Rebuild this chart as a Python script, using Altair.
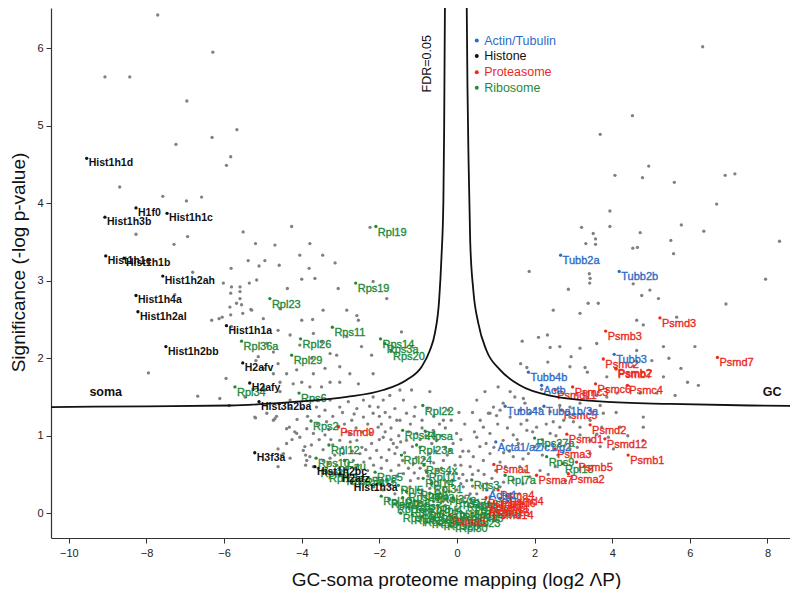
import altair as alt
import pandas as pd

FONT = "Liberation Sans"

# ---------------- data ----------------
x_ticks = [-10, -8, -6, -4, -2, 0, 2, 4, 6, 8]
y_ticks = [0, 1, 2, 3, 4, 5, 6]

grey_upper_left = [(-9.07, 5.63), (-8.43, 5.63), (-6.96, 5.32), (-6.29, 5.95), (-7.71, 6.43), (-6.31, 4.85),
                   (-5.67, 4.95), (-7.24, 4.76), (-5.83, 4.60), (-5.94, 4.49), (-8.69, 4.21), (-7.58, 4.09),
                   (-6.97, 4.03), (-6.58, 4.08), (-8.27, 3.60), (-6.94, 3.57), (-7.29, 3.47), (-5.51, 3.63),
                   (-5.19, 3.48), (-5.38, 3.26), (-5.10, 3.19), (-6.81, 3.11), (-5.82, 3.16), (-6.02, 2.97),
                   (-5.81, 2.92), (-5.59, 2.92), (-5.35, 2.97), (-5.16, 3.01), (-5.83, 2.84), (-5.59, 2.86),
                   (-7.27, 2.82), (-5.59, 2.77), (-5.85, 2.66), (-5.68, 2.71), (-5.55, 2.69), (-5.31, 2.63),
                   (-5.52, 2.58), (-5.83, 2.56), (-6.05, 2.53), (-6.32, 2.49), (-6.13, 2.51)]

grey_mid_left = [(-4.26, 3.70), (-2.24, 3.69), (-4.69, 3.46), (-3.79, 3.48), (-4.95, 3.26), (-4.58, 3.20),
                 (-3.81, 3.16), (-3.14, 3.23), (-4.05, 3.33), (-3.46, 3.33), (-4.37, 2.90), (-4.00, 3.02),
                 (-3.66, 3.03), (-3.06, 2.90), (-2.16, 2.99), (-1.81, 2.77), (-5.29, 2.62), (-4.56, 2.64),
                 (-3.45, 2.62), (-2.84, 2.62), (-4.99, 2.51), (-4.00, 2.49), (-3.72, 2.50), (-2.58, 2.55),
                 (-2.54, 2.49), (-1.43, 2.34), (-5.81, 2.41), (-4.61, 2.36), (-4.30, 2.30), (-3.70, 2.32),
                 (-3.49, 2.21), (-2.84, 2.28), (-2.46, 2.15), (-4.90, 2.19), (-5.12, 2.02), (-4.73, 2.08),
                 (-3.74, 2.00), (-3.27, 2.06), (-3.10, 2.04), (-2.20, 2.04), (-2.16, 1.80), (-4.99, 1.87),
                 (-4.73, 1.80), (-4.13, 1.85), (-3.70, 1.80), (-3.40, 1.87), (-3.02, 1.89), (-2.76, 1.80),
                 (-2.54, 1.67), (-3.02, 1.69), (-3.27, 1.69), (-3.49, 1.63), (-7.95, 1.81), (-5.95, 1.74),
                 (-6.68, 1.51), (-6.11, 1.48), (-5.46, 1.50), (-5.18, 1.97), (-4.61, 1.93), (-4.39, 1.80),
                 (-4.22, 1.67), (-4.56, 1.57), (-4.95, 1.59), (-4.30, 1.46), (-4.05, 2.17), (-4.56, 1.69),
                 (-4.99, 1.63), (-3.79, 1.63), (-4.00, 1.69)]

grey_lower_left = [(-5.87, 1.39), (-5.19, 1.23), (-4.73, 1.20), (-4.65, 1.25), (-4.32, 1.11), (-4.12, 1.21),
                   (-4.18, 1.05), (-3.87, 1.09), (-4.05, 0.98), (-4.39, 0.90), (-4.61, 0.83), (-4.52, 0.75),
                   (-4.30, 0.71), (-4.61, 0.60), (-3.92, 0.86), (-3.90, 0.75), (-3.87, 0.68), (-3.90, 0.62),
                   (-5.21, 1.24), (-4.90, 1.29), (-4.69, 1.22), (-4.30, 1.35), (-4.39, 1.09), (-4.13, 1.03),
                   (-3.62, 1.37), (-3.40, 1.33), (-3.27, 1.46), (-3.02, 1.37), (-2.80, 1.44), (-2.58, 1.35),
                   (-2.41, 1.46), (-2.16, 1.50), (-1.90, 1.46), (-2.03, 1.37), (-1.73, 1.52), (-1.47, 1.59),
                   (-1.38, 1.46), (-1.17, 1.59), (-1.08, 1.37), (-0.70, 1.57), (-1.30, 1.29), (-1.47, 1.20),
                   (-1.73, 1.24), (-2.16, 1.29), (-2.41, 1.24), (-2.71, 1.20), (-3.36, 1.18), (-3.70, 1.03),
                   (-3.40, 1.01), (-3.02, 0.94), (-2.76, 1.03), (-2.58, 0.94), (-2.24, 1.03), (-2.03, 1.11),
                   (-1.90, 0.98), (-1.64, 0.90), (-1.30, 0.94), (-1.04, 1.03), (-0.61, 1.07), (-0.52, 0.94),
                   (-0.35, 1.20), (-0.22, 1.33), (-0.01, 1.03), (-4.47, 0.77), (-3.96, 0.81), (-3.79, 0.73),
                   (-3.27, 0.71), (-2.93, 0.77), (-2.67, 0.68), (-2.50, 0.77), (-2.24, 0.71), (-2.07, 0.81),
                   (-1.81, 0.68), (-1.60, 0.77), (-1.12, 0.64), (-0.70, 0.77), (-0.35, 0.68), (-0.18, 0.81),
                   (0.08, 0.73), (0.34, 0.60), (-0.01, 0.51), (-1.38, 0.51), (-1.81, 0.43), (-2.16, 0.34),
                   (-1.21, 0.34), (0.16, 0.34), (0.34, 0.25), (-3.20, 1.25), (-2.90, 1.15), (-2.60, 1.10),
                   (-2.30, 1.15), (-2.00, 1.25), (-1.70, 1.10), (-1.50, 1.00), (-1.20, 1.15), (-0.90, 1.20),
                   (-0.80, 1.00), (-0.60, 1.25), (-0.40, 1.00), (-0.30, 0.85), (-0.10, 0.90), (0.10, 0.95),
                   (0.20, 1.15), (0.15, 0.80), (-0.50, 0.55), (-0.80, 0.55), (-0.95, 0.85), (-1.35, 0.78),
                   (-1.50, 0.62), (-1.95, 0.58), (-2.30, 0.55), (-2.60, 0.50), (-2.85, 0.58), (-3.10, 0.62),
                   (-3.45, 0.82), (-3.20, 0.88), (-2.45, 0.85), (-2.20, 0.90), (-1.75, 0.82), (-1.15, 0.86),
                   (-0.85, 0.70), (-0.55, 0.80), (-3.60, 1.15), (-3.85, 1.25), (-3.30, 1.08), (-2.95, 1.30),
                   (-2.65, 1.28), (-1.85, 1.30), (-1.60, 1.35), (-1.10, 1.25), (-0.75, 1.35), (-0.45, 1.15),
                   (-0.15, 1.20), (0.05, 1.30), (-4.00, 1.35), (-3.55, 0.95), (-4.25, 0.95), (-3.70, 0.60),
                   (-3.40, 0.55), (-2.05, 0.45), (-1.65, 0.40), (-1.00, 0.45), (-0.65, 0.40), (-0.25, 0.40),
                   (0.05, 0.45), (-1.40, 0.30), (-0.90, 0.25), (-0.45, 0.20), (-0.10, 0.18), (0.20, 0.20)]

grey_dense_left = [(-3.45, 0.68), (-3.15, 0.75), (-2.95, 0.85), (-2.75, 0.92), (-2.55, 0.62), (-2.35, 0.82),
                   (-2.15, 0.62), (-1.95, 0.72), (-1.70, 0.95), (-1.55, 0.85), (-1.40, 0.68), (-1.25, 0.58),
                   (-1.05, 0.72), (-0.95, 0.58), (-0.75, 0.48), (-0.60, 0.65), (-0.40, 0.58), (-0.25, 0.75),
                   (-0.05, 0.62), (-1.85, 1.05), (-2.45, 1.05), (-2.85, 1.05), (-3.05, 1.12), (-3.55, 1.25),
                   (-2.25, 1.38), (-1.95, 1.15), (-1.55, 1.20), (-1.25, 1.05), (-0.95, 0.95), (-0.65, 0.90),
                   (-0.30, 1.10), (-3.75, 0.88), (-3.25, 0.95), (-2.70, 0.80), (-2.00, 0.95), (-1.45, 0.92),
                   (-0.90, 1.10), (-0.20, 0.52), (0.10, 0.62), (-1.70, 0.55), (-2.40, 0.66), (-2.90, 0.68),
                   (-3.30, 0.64), (-1.10, 0.52), (-0.70, 0.32), (-0.35, 0.30), (-1.55, 0.48), (-2.60, 0.42),
                   (-3.10, 0.52)]

grey_center_bottom = [(-0.90, 0.30), (-0.60, 0.15), (-0.30, 0.10), (0.00, 0.05), (0.30, 0.10), (0.60, 0.12),
                      (0.95, 0.30), (1.20, 0.40), (-1.20, 0.42), (-0.50, 0.30), (0.20, -0.02), (0.50, 0.02),
                      (-0.20, 0.28), (0.10, 0.38), (0.40, 0.35), (1.00, 0.05), (1.30, 0.15), (1.60, 0.25),
                      (-1.60, 0.25), (-1.90, 0.30), (-2.50, 0.40), (0.00, 0.30), (0.15, 0.50), (-0.10, 0.42),
                      (0.25, 0.42)]

grey_lower_right = [(0.51, 0.98), (0.68, 1.11), (0.85, 1.03), (0.59, 0.86), (1.19, 0.94), (1.45, 1.01),
                    (1.58, 0.90), (1.80, 1.20), (1.80, 1.07), (2.05, 1.11), (2.40, 1.03), (2.65, 1.11),
                    (3.00, 1.18), (3.17, 1.11), (3.17, 1.01), (3.43, 0.94), (3.73, 1.11), (4.03, 0.83),
                    (4.20, 1.11), (4.80, 1.24), (4.80, 1.11), (0.85, 1.29), (1.11, 1.33), (1.37, 1.24),
                    (1.62, 1.33), (1.88, 1.29), (2.14, 1.35), (2.40, 1.31), (2.65, 1.39), (2.91, 1.37),
                    (3.17, 1.42), (3.43, 1.33), (3.69, 1.39), (3.43, 1.20), (2.91, 1.24), (2.48, 1.18),
                    (0.42, 0.73), (0.68, 0.68), (0.85, 0.77), (1.11, 0.66), (1.45, 0.73), (1.62, 0.60),
                    (1.84, 0.77), (2.01, 0.86), (2.65, 0.90), (2.91, 0.83), (3.43, 0.77), (3.69, 0.86),
                    (2.53, 0.60), (2.14, 0.55), (1.88, 0.47), (1.45, 0.43), (1.11, 0.34), (0.77, 0.38),
                    (0.51, 0.25), (0.85, 0.21), (0.51, 0.08), (4.80, 0.94), (1.06, 1.63), (1.37, 1.57),
                    (1.49, 1.50), (1.71, 1.48), (1.19, 1.42), (1.75, 1.42), (2.01, 1.35), (0.94, 1.37),
                    (0.81, 1.29), (1.02, 1.26), (0.51, 1.46), (0.72, 1.57), (3.77, 1.29)]

grey_dense_right = [(0.55, 0.55), (0.70, 0.50), (0.90, 0.45), (1.00, 0.55), (1.25, 0.60), (1.35, 0.80),
                    (1.55, 0.95), (1.65, 1.15), (1.95, 1.05), (2.20, 0.95), (2.30, 1.15), (2.55, 1.00),
                    (2.75, 1.20), (2.20, 0.75), (1.70, 0.70), (1.30, 1.10), (1.05, 1.15), (0.75, 0.90),
                    (0.60, 1.20), (0.65, 0.35), (0.95, 0.85), (1.20, 0.78), (1.75, 0.55), (2.35, 0.50),
                    (2.80, 0.42), (3.10, 0.85), (3.30, 0.60), (3.90, 0.98), (4.40, 1.00), (4.10, 1.30),
                    (3.60, 1.02), (2.60, 0.75), (0.40, 0.50), (0.30, 0.80), (0.45, 1.05), (0.40, 1.30),
                    (1.40, 0.25), (1.70, 0.38)]

grey_upper_right = [(4.33, 6.59), (6.33, 6.02), (4.52, 5.13), (3.69, 4.89), (4.94, 4.48), (4.07, 4.36),
                    (4.78, 4.33), (5.60, 4.27), (6.91, 4.36), (7.16, 4.38), (3.94, 3.90), (6.69, 3.99),
                    (3.21, 3.69), (3.94, 3.70), (5.78, 3.72), (3.51, 3.61), (4.72, 3.62), (6.36, 3.64),
                    (3.57, 3.54), (3.32, 3.48), (3.57, 3.47), (5.51, 3.52), (8.31, 3.51), (4.53, 3.42),
                    (4.65, 3.43), (7.95, 3.02), (1.86, 3.12), (3.41, 3.09), (5.58, 3.35), (3.42, 2.97),
                    (3.43, 3.03), (4.54, 2.96), (2.87, 2.89), (4.97, 2.88), (4.76, 2.81), (5.19, 2.77),
                    (3.38, 2.71), (3.64, 2.71), (3.17, 2.58), (6.93, 2.70), (2.48, 2.62), (4.63, 2.49),
                    (4.80, 2.43), (5.66, 2.53), (1.68, 2.22), (2.10, 2.27), (2.33, 2.30), (2.40, 2.14),
                    (2.65, 2.15), (2.94, 2.02), (3.17, 2.13), (3.60, 2.19), (4.63, 2.10), (5.32, 2.15),
                    (6.13, 2.15), (5.46, 2.00), (5.02, 1.97), (1.64, 1.93), (1.80, 1.88), (2.34, 1.95),
                    (2.91, 1.89), (3.30, 1.88), (3.36, 1.82), (3.86, 1.76), (4.54, 1.90), (5.32, 1.76),
                    (5.77, 1.87), (5.94, 1.69), (6.22, 1.65), (5.62, 1.52), (5.15, 1.55), (4.72, 1.55),
                    (2.18, 1.60), (3.34, 1.50), (3.60, 1.52), (3.86, 1.50), (4.12, 1.55)]

histone = [("Hist1h1d", -9.54, 4.58), ("H1f0", -8.27, 3.94), ("Hist1h3b", -9.07, 3.82), ("Hist1h1c", -7.47, 3.87),
           ("Hist1h1e", -9.05, 3.32), ("Hist1h1b", -8.58, 3.29), ("Hist1h2ah", -7.58, 3.06), ("Hist1h4a", -8.27, 2.81),
           ("Hist1h2al", -8.22, 2.60), ("Hist1h1a", -5.94, 2.42), ("Hist1h2bb", -7.50, 2.15), ("H2afv", -5.52, 1.94),
           ("H2afy", -5.34, 1.68), ("Hist3h2ba", -5.10, 1.44), ("H3f3a", -5.21, 0.78), ("Hist1h2bc", -3.66, 0.60),
           ("H2afz", -3.02, 0.50), ("Hist1h3a", -2.71, 0.39)]

ribosome = [("Rpl19", -2.09, 3.70), ("Rps19", -2.61, 2.97), ("Rpl23", -4.82, 2.77), ("Rps11", -3.21, 2.40),
            ("Rpl26", -4.03, 2.25), ("Rpl36a", -5.55, 2.22), ("Rps14", -1.97, 2.25), ("Rps3a", -1.86, 2.19),
            ("Rps20", -1.70, 2.09), ("Rpl29", -4.26, 2.04), ("Rpl34", -5.72, 1.63), ("Rps6", -4.07, 1.55),
            ("Rpl22", -0.88, 1.39), ("Rps2", -3.76, 1.19), ("Rps24", -1.40, 1.07), ("Rpsa", -0.82, 1.06),
            ("Rpl23a", -1.04, 0.88), ("Rpl12", -3.30, 0.88), ("Rpl24", -1.43, 0.75), ("Rps4x", -0.85, 0.62),
            ("Rpl11", -0.78, 0.53), ("Rpl14", -0.87, 0.45), ("Rpl31", -0.65, 0.38), ("Rpl5", -1.51, 0.36),
            ("Rpl3", -0.70, 0.26), ("Rps5", -2.11, 0.53), ("Rps10", -3.63, 0.71), ("Fau", -2.89, 0.68),
            ("Rps15", -2.42, 0.47), ("Rpl35", -3.57, 0.58), ("Rpl13a", -3.35, 0.52), ("Rps15a", -2.90, 0.48),
            ("Rps27a", 2.00, 0.97), ("Rps9", 2.31, 0.73), ("Rpl18", 2.73, 0.64), ("Rpl7a", 1.24, 0.49),
            ("Rps3", 0.38, 0.43), ("Rpl36al", 0.65, 0.05), ("Rpl10", -1.95, 0.22), ("Rplp0", -1.75, 0.18),
            ("Rpl13", -1.60, 0.12), ("Rps8", -1.40, 0.20), ("Rpl7", -1.25, 0.08), ("Rps7", -1.10, 0.16),
            ("Rpl6", -0.95, 0.05), ("Rpl8", -0.80, 0.12), ("Rps18", -0.65, 0.02), ("Rpl4", -0.50, 0.10),
            ("Rps16", -0.35, -0.02), ("Rpl18a", -0.20, 0.06), ("Rps13", -0.05, -0.05), ("Rpl27a", 0.10, 0.02),
            ("Rps23", 0.25, -0.06), ("Rpl15", 0.40, 0.00), ("Rps25", 0.55, 0.08), ("Rpl21", -0.90, -0.05),
            ("Rpl9", -0.60, -0.08), ("Rps26", -0.30, -0.10), ("Rpl30", 0.00, -0.12), ("Rpl32", -1.15, -0.02),
            ("Rps12", -1.45, 0.00), ("Rpl28", 0.20, 0.14), ("Rps17", -0.10, 0.20), ("Rpl37a", -0.45, 0.25),
            ("Rplp1", -1.00, 0.30), ("Rps21", 0.35, 0.18), ("Rps28", -1.30, 0.28)]

proteasome = [("Psmd3", 5.23, 2.52), ("Psmb3", 3.83, 2.35), ("Psmd7", 6.71, 2.01), ("Psmc2", 3.77, 1.99),
              ("Psmb2", 4.09, 1.87), ("Psmb7", 4.10, 1.86), ("Psmc6", 3.57, 1.67), ("Psmc4", 4.39, 1.65),
              ("Psmd11", 2.53, 1.59), ("Psmc3", 2.98, 1.63), ("Psmc5", 2.70, 1.33), ("Psmd2", 3.43, 1.14),
              ("Psmd12", 3.81, 0.96), ("Psmd1", 2.83, 1.02), ("Psmb1", 4.41, 0.75), ("Psma3", 2.53, 0.83),
              ("Psmb5", 3.08, 0.66), ("Psma2", 2.87, 0.51), ("Psma7", 2.05, 0.49), ("Psma1", 0.95, 0.63),
              ("Psmd9", -3.06, 1.11), ("Psma4", 1.06, 0.30), ("Psmd4", 1.30, 0.22), ("Psma5", -0.18, -0.03),
              ("Psmb4", 0.75, 0.20), ("Psmb6", 0.82, 0.14), ("Psmc1", 0.95, 0.12), ("Psmd13", 0.78, 0.08),
              ("Psmd6", 1.10, 0.19), ("Psmd14", 0.88, 0.04)]

actin_tubulin = [("Tubb2a", 2.67, 3.33), ("Tubb2b", 4.18, 3.12), ("Tubb3", 4.05, 2.05), ("Tubb4b", 1.84, 1.82),
                 ("Actb", 2.18, 1.65), ("Tubb4a", 1.24, 1.38), ("Tuba1b/3a", 2.24, 1.38),
                 ("Acta1/a2/c1/g2", 1.00, 0.92), ("Actg1", 0.77, 0.30)]

fdr_left_x = [-10.46, -8.0, -5.85, -4.13, -2.84, -1.90, -1.30, -0.91, -0.70, -0.57, -0.46, -0.40, -0.35, -0.33, -0.31]
fdr_left_y = [1.37, 1.38, 1.39, 1.44, 1.50, 1.59, 1.72, 1.89, 2.10, 2.32, 2.75, 3.30, 4.04, 5.00, 6.60]
fdr_right_x = [0.25, 0.27, 0.30, 0.34, 0.42, 0.55, 0.76, 1.11, 1.62, 2.47, 3.76, 5.49, 7.55, 8.58]
fdr_right_y = [6.60, 5.50, 4.50, 3.52, 2.88, 2.45, 2.10, 1.85, 1.65, 1.51, 1.44, 1.41, 1.39, 1.385]

groups = ["Actin/Tubulin", "Histone", "Proteasome", "Ribosome"]
group_colors = ["#2d6cc6", "#111111", "#ea2a1e", "#238a3b"]
legend_y = [6.10, 5.90, 5.69, 5.49]
legend_dot_x = 0.51
legend_text_x = 0.70

# ---------------- frames ----------------
grey_all = (grey_upper_left + grey_mid_left + grey_lower_left + grey_dense_left + grey_center_bottom
            + grey_lower_right + grey_dense_right + grey_upper_right)
grey_df = pd.DataFrame(grey_all, columns=["x", "y"])

rows = []
for grp, items in [("Ribosome", ribosome), ("Proteasome", proteasome),
                   ("Actin/Tubulin", actin_tubulin), ("Histone", histone)]:
    for name, xv, yv in items:
        rows.append({"label": name, "x": xv, "y": yv, "group": grp})
lab_df = pd.DataFrame(rows)

fdr_df = pd.concat([
    pd.DataFrame({"x": fdr_left_x, "y": fdr_left_y, "branch": "left"}),
    pd.DataFrame({"x": fdr_right_x, "y": fdr_right_y, "branch": "right"}),
])

legend_df = pd.DataFrame({"group": groups, "y": legend_y,
                          "xd": [legend_dot_x] * 4, "xt": [legend_text_x] * 4})

ann_df = pd.DataFrame({"text": ["soma", "GC"], "x": [-9.05, 8.12], "y": [1.56, 1.56]})
fdr_lab_df = pd.DataFrame({"text": ["FDR=0.05"], "x": [-0.76], "y": [5.80]})

# ---------------- encodings ----------------
xs = alt.Scale(domain=[-10.46, 8.58], nice=False, zero=False)
ys = alt.Scale(domain=[-0.32, 6.52], nice=False, zero=False)
cs = alt.Scale(domain=groups, range=group_colors)

x_axis = alt.Axis(values=x_ticks, title="GC-soma proteome mapping (log2 ΛP)", grid=False,
                  tickSize=5, labelPadding=4, labelFlush=False,
                  titleX=405, titleY=47, titleBaseline="alphabetic", titleAlign="center")
y_axis = alt.Axis(values=y_ticks, title="Significance (-log p-value)", grid=False,
                  tickSize=5, labelPadding=3, labelFlush=False,
                  titleX=-33, titleY=254, titleAngle=270, titleBaseline="middle", titleAlign="center")


def X(field="x"):
    return alt.X(f"{field}:Q", scale=xs, axis=x_axis)


def Y(field="y"):
    return alt.Y(f"{field}:Q", scale=ys, axis=y_axis)


grey = alt.Chart(grey_df).mark_circle(size=11, color="#808080", opacity=1, clip=True).encode(x=X(), y=Y())

pts = alt.Chart(lab_df).mark_circle(size=11, opacity=1, clip=True).encode(
    x=X(), y=Y(), color=alt.Color("group:N", scale=cs, legend=None))

labels_other = alt.Chart(lab_df).transform_filter(alt.datum.group != "Histone").mark_text(
    align="left", baseline="top", dx=2, dy=0, fontSize=11, font=FONT, strokeWidth=0.35).encode(
    x=X(), y=Y(), text="label:N",
    color=alt.Color("group:N", scale=cs, legend=None),
    stroke=alt.Stroke("group:N", scale=cs, legend=None))

labels_hist = alt.Chart(lab_df).transform_filter(alt.datum.group == "Histone").mark_text(
    align="left", baseline="top", dx=2, dy=0, fontSize=10.5, fontWeight="bold", font=FONT).encode(
    x=X(), y=Y(), text="label:N", color=alt.Color("group:N", scale=cs, legend=None))

fdr = alt.Chart(fdr_df).mark_line(color="#111111", strokeWidth=1.8, interpolate="monotone", clip=True).encode(
    x=X(), y=Y(), detail="branch:N")

ann = alt.Chart(ann_df).mark_text(fontSize=12.5, fontWeight="bold", font=FONT, color="#111111",
                                  align="center", baseline="middle").encode(x=X(), y=Y(), text="text:N")

fdr_lab = alt.Chart(fdr_lab_df).mark_text(fontSize=12.5, font=FONT, color="#111111", angle=270,
                                          align="center", baseline="middle").encode(x=X(), y=Y(), text="text:N")

leg_dots = alt.Chart(legend_df).mark_circle(size=16, opacity=1).encode(
    x=X("xd"), y=Y(), color=alt.Color("group:N", scale=cs, legend=None))
leg_text = alt.Chart(legend_df).mark_text(fontSize=12.5, font=FONT, align="left", baseline="middle").encode(
    x=X("xt"), y=Y(), text="group:N", color=alt.Color("group:N", scale=cs, legend=None))

chart = alt.layer(grey, pts, labels_other, labels_hist, fdr, ann, fdr_lab, leg_dots, leg_text).properties(
    width=739, height=530,
    autosize=alt.AutoSizeParams(type="none"),
    padding={"left": 43, "top": 0, "right": 0, "bottom": 51},
).configure_view(stroke=None).configure_axis(
    domainColor="#333333", tickColor="#333333", labelColor="#222222",
    labelFont=FONT, labelFontSize=11, titleFont=FONT, titleFontSize=19,
    titleFontWeight="normal", titleColor="#111111", domainWidth=1.2, tickWidth=1
)

chart.save("out.html", embed_options={"renderer": "svg", "actions": False})
